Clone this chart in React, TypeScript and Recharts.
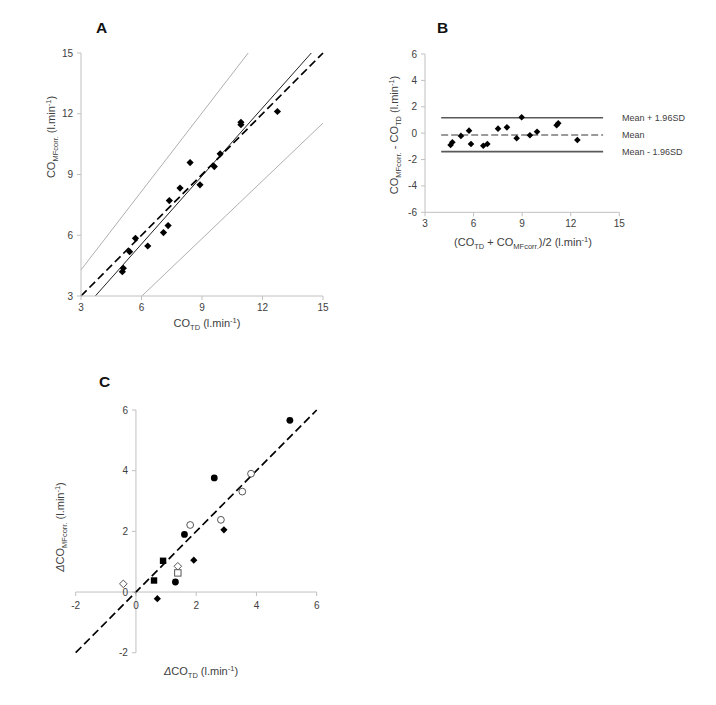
import React from "react";
import { ReferenceLine, Scatter, ScatterChart, XAxis, YAxis } from "recharts";

const FONT = '"Liberation Sans", Arial, sans-serif';
const AXIS = "#c0c0c0";
const TXT = "#404040";

// Panel A: CO by thermodilution vs corrected CO
const coTd = [5.05, 5.1, 5.41, 5.7, 6.31, 7.09, 7.32, 7.38, 7.91, 8.41, 8.9, 9.61, 9.9, 10.93, 10.93, 12.74];
const coMf = [4.2, 4.37, 5.19, 5.85, 5.47, 6.13, 6.48, 7.71, 8.33, 9.59, 8.49, 9.39, 10.02, 11.58, 11.46, 12.11];
const ticksA = [3, 6, 9, 12, 15];
const identityA = [{ x: 3, y: 3 }, { x: 15, y: 15 }];
const regressionA = [{ x: 3.71, y: 3 }, { x: 14.42, y: 15 }];
const upperBandA = [{ x: 3, y: 4.29 }, { x: 11.29, y: 15 }];
const lowerBandA = [{ x: 6.02, y: 3 }, { x: 15, y: 11.54 }];

// Panel B: Bland-Altman
const baMean = [4.58, 4.69, 5.22, 5.72, 5.84, 6.6, 6.85, 7.51, 8.06, 8.66, 8.97, 9.48, 9.92, 11.13, 11.23, 12.41];
const baDiff = [-0.9, -0.69, -0.21, 0.19, -0.82, -0.95, -0.82, 0.34, 0.44, -0.39, 1.2, -0.16, 0.11, 0.6, 0.75, -0.52];
const ticksBx = [3, 6, 9, 12, 15];
const ticksBy = [-6, -4, -2, 0, 2, 4, 6];
const limitNames = ["Mean + 1.96SD", "Mean", "Mean - 1.96SD"];
const limitValues = [1.17, -0.14, -1.4];
const limitSpan = [4, 14];

// Panel C: changes in CO
const filledCircleX = [5.11, 2.6, 1.61, 1.31];
const filledCircleY = [5.66, 3.76, 1.9, 0.33];
const openCircleX = [3.82, 3.53, 2.82, 1.8];
const openCircleY = [3.9, 3.31, 2.38, 2.21];
const filledDiamondX = [2.92, 1.92, 0.71];
const filledDiamondY = [2.05, 1.05, -0.22];
const filledSquareX = [0.9, 0.6];
const filledSquareY = [1.03, 0.38];
const openDiamondX = [1.39, -0.42];
const openDiamondY = [0.85, 0.27];
const openSquareX = [1.39];
const openSquareY = [0.63];
const ticksC = [-2, 0, 2, 4, 6];
const identityC = [{ x: -2, y: -2 }, { x: 6, y: 6 }];

const pairs = (xs: number[], ys: number[]) => xs.map((x, i) => ({ x, y: ys[i] }));

const Diamond = ({ cx, cy, fill = "#000", stroke = "none", r = 3.6 }: any) => (
  <polygon
    points={`${cx},${cy - r} ${cx + r},${cy} ${cx},${cy + r} ${cx - r},${cy}`}
    fill={fill}
    stroke={stroke}
    strokeWidth={1}
  />
);
const Square = ({ cx, cy, fill = "#000", stroke = "none", r = 3.2 }: any) => (
  <rect x={cx - r} y={cy - r} width={2 * r} height={2 * r} fill={fill} stroke={stroke} strokeWidth={1} />
);
const Dot = ({ cx, cy, fill = "#000", stroke = "none", r = 3.4 }: any) => (
  <circle cx={cx} cy={cy} r={r} fill={fill} stroke={stroke} strokeWidth={1} />
);

type Part = [string, "n" | "sub" | "sup" | "i"];
function Rich({ parts, ...rest }: { parts: Part[]; [k: string]: any }) {
  let shift = 0;
  return (
    <text fontFamily={FONT} fontSize={11} fill={TXT} style={{ whiteSpace: "pre" }} {...rest}>
      {parts.map(([t, k], i) => {
        const target = k === "sub" ? 3 : k === "sup" ? -4 : 0;
        const dy = target - shift;
        shift = target;
        return (
          <tspan
            key={i}
            dy={dy}
            fontSize={k === "sub" || k === "sup" ? 7.5 : undefined}
            fontStyle={k === "i" ? "italic" : undefined}
          >
            {t}
          </tspan>
        );
      })}
    </text>
  );
}

const tickStyle = { fill: TXT, fontSize: 10, fontFamily: FONT };

function PanelA() {
  return (
    <ScatterChart width={340} height={340} margin={{ top: 53, right: 17, bottom: 14, left: 41 }}>
      <XAxis type="number" dataKey="x" domain={[3, 15]} ticks={ticksA} allowDataOverflow height={30}
        stroke={AXIS} tickSize={4} tickMargin={4} tick={tickStyle} />
      <YAxis type="number" dataKey="y" domain={[3, 15]} ticks={ticksA} allowDataOverflow width={40}
        stroke={AXIS} tickSize={4} tickMargin={4} tick={tickStyle} />
      <ReferenceLine segment={upperBandA} stroke="#a6a6a6" strokeWidth={0.9} />
      <ReferenceLine segment={lowerBandA} stroke="#a6a6a6" strokeWidth={0.9} />
      <ReferenceLine segment={regressionA} stroke="#222" strokeWidth={1} />
      <ReferenceLine segment={identityA} stroke="#000" strokeWidth={1.7} strokeDasharray="8 4" />
      <Scatter data={pairs(coTd, coMf)} isAnimationActive={false} shape={(p: any) => <Diamond {...p} />} />
    </ScatterChart>
  );
}

function PanelB() {
  return (
    <ScatterChart width={356} height={260} margin={{ top: 54, right: 96.7, bottom: 17.7, left: 25 }}>
      <XAxis type="number" dataKey="x" domain={[3, 15]} ticks={ticksBx} allowDataOverflow height={30}
        stroke={AXIS} tickSize={4} tickMargin={4} tick={tickStyle} />
      <YAxis type="number" dataKey="y" domain={[-6, 6]} ticks={ticksBy} allowDataOverflow width={40}
        stroke={AXIS} tickSize={4} tickMargin={4} tick={tickStyle} />
      {limitValues.map((v, i) => (
        <ReferenceLine
          key={limitNames[i]}
          segment={[{ x: limitSpan[0], y: v }, { x: limitSpan[1], y: v }]}
          stroke={i === 1 ? "#7a7a7a" : "#595959"}
          strokeWidth={1.6}
          strokeDasharray={i === 1 ? "7 3" : undefined}
          label={{ value: limitNames[i], position: "right", offset: 19, fill: TXT, fontSize: 9, fontFamily: FONT }}
        />
      ))}
      <Scatter data={pairs(baMean, baDiff)} isAnimationActive={false} shape={(p: any) => <Diamond {...p} r={3.3} />} />
    </ScatterChart>
  );
}

const C_W = 241;
const C_H = 242.7;
const C_DOM: [number, number] = [-2, 6];
const zeroFrac = (0 - C_DOM[0]) / (C_DOM[1] - C_DOM[0]);

const CTickX = ({ x, y, payload }: any) => {
  const y0 = y - C_H * zeroFrac;
  return (
    <g>
      <line x1={x} x2={x} y1={y0} y2={y0 + 4} stroke={AXIS} />
      <text x={x} y={y0 + 17} textAnchor="middle" {...tickStyle}>{payload.value}</text>
    </g>
  );
};
const CTickY = ({ x, y, payload }: any) => {
  const x0 = x + C_W * zeroFrac;
  return (
    <g>
      <line x1={x0 - 4} x2={x0} y1={y} y2={y} stroke={AXIS} />
      <text x={x0 - 8} y={y + 3.5} textAnchor="end" {...tickStyle}>{payload.value}</text>
    </g>
  );
};

function PanelC() {
  const open = { fill: "#fff", stroke: "#555" };
  return (
    <ScatterChart width={340} height={345} margin={{ top: 50, right: 23.3, bottom: 32.3, left: 55.7 }}>
      <XAxis type="number" dataKey="x" domain={C_DOM} ticks={ticksC} allowDataOverflow height={20}
        axisLine={false} tickLine={false} tickSize={0} tickMargin={0} tick={(p: any) => <CTickX {...p} />} />
      <YAxis type="number" dataKey="y" domain={C_DOM} ticks={ticksC} allowDataOverflow width={20}
        axisLine={false} tickLine={false} tickSize={0} tickMargin={0} tick={(p: any) => <CTickY {...p} />} />
      <ReferenceLine y={0} stroke={AXIS} />
      <ReferenceLine x={0} stroke={AXIS} />
      <ReferenceLine segment={identityC} stroke="#000" strokeWidth={1.7} strokeDasharray="8 4" />
      <Scatter data={pairs(filledCircleX, filledCircleY)} isAnimationActive={false} shape={(p: any) => <Dot {...p} />} />
      <Scatter data={pairs(openCircleX, openCircleY)} isAnimationActive={false} shape={(p: any) => <Dot {...p} {...open} />} />
      <Scatter data={pairs(filledDiamondX, filledDiamondY)} isAnimationActive={false} shape={(p: any) => <Diamond {...p} />} />
      <Scatter data={pairs(filledSquareX, filledSquareY)} isAnimationActive={false} shape={(p: any) => <Square {...p} />} />
      <Scatter data={pairs(openDiamondX, openDiamondY)} isAnimationActive={false} shape={(p: any) => <Diamond {...p} {...open} r={3.8} />} />
      <Scatter data={pairs(openSquareX, openSquareY)} isAnimationActive={false} shape={(p: any) => <Square {...p} {...open} />} />
    </ScatterChart>
  );
}

export default function App() {
  const abs = (left: number, top: number): React.CSSProperties => ({ position: "absolute", left, top });
  return (
    <div style={{ position: "absolute", left: 0, top: 0, width: 716, height: 705, background: "#fff", overflow: "hidden" }}>
      <div style={abs(0, 0)}><PanelA /></div>
      <div style={abs(360, 0)}><PanelB /></div>
      <div style={abs(0, 360)}><PanelC /></div>
      <svg width={716} height={705} style={{ ...abs(0, 0), pointerEvents: "none" }}>
        <text x={96} y={33} fontFamily={FONT} fontSize={15.5} fontWeight="bold" fill="#111">A</text>
        <text x={437} y={33} fontFamily={FONT} fontSize={15.5} fontWeight="bold" fill="#111">B</text>
        <text x={99} y={387} fontFamily={FONT} fontSize={15.5} fontWeight="bold" fill="#111">C</text>

        <Rich x={55} y={137} textAnchor="middle" transform="rotate(-90 55 137)"
          parts={[["CO", "n"], ["MFcorr.", "sub"], [" (l.min", "n"], ["-1", "sup"], [")", "n"]]} />
        <Rich x={207} y={327} textAnchor="middle"
          parts={[["CO", "n"], ["TD", "sub"], [" (l.min", "n"], ["-1", "sup"], [")", "n"]]} />

        <Rich x={398} y={135} textAnchor="middle" transform="rotate(-90 398 135)"
          parts={[["CO", "n"], ["MFcorr.", "sub"], [" - CO", "n"], ["TD", "sub"], [" (l.min", "n"], ["-1", "sup"], [")", "n"]]} />
        <Rich x={523} y={246} textAnchor="middle"
          parts={[["(CO", "n"], ["TD", "sub"], [" + CO", "n"], ["MFcorr.", "sub"], [")/2 (l.min", "n"], ["-1", "sup"], [")", "n"]]} />

        <Rich x={64} y={527} textAnchor="middle" transform="rotate(-90 64 527)"
          parts={[["Δ", "i"], ["CO", "n"], ["MFcorr.", "sub"], [" (l.min", "n"], ["-1", "sup"], [")", "n"]]} />
        <Rich x={201} y={675} textAnchor="middle"
          parts={[["Δ", "i"], ["CO", "n"], ["TD", "sub"], [" (l.min", "n"], ["-1", "sup"], [")", "n"]]} />
      </svg>
    </div>
  );
}
